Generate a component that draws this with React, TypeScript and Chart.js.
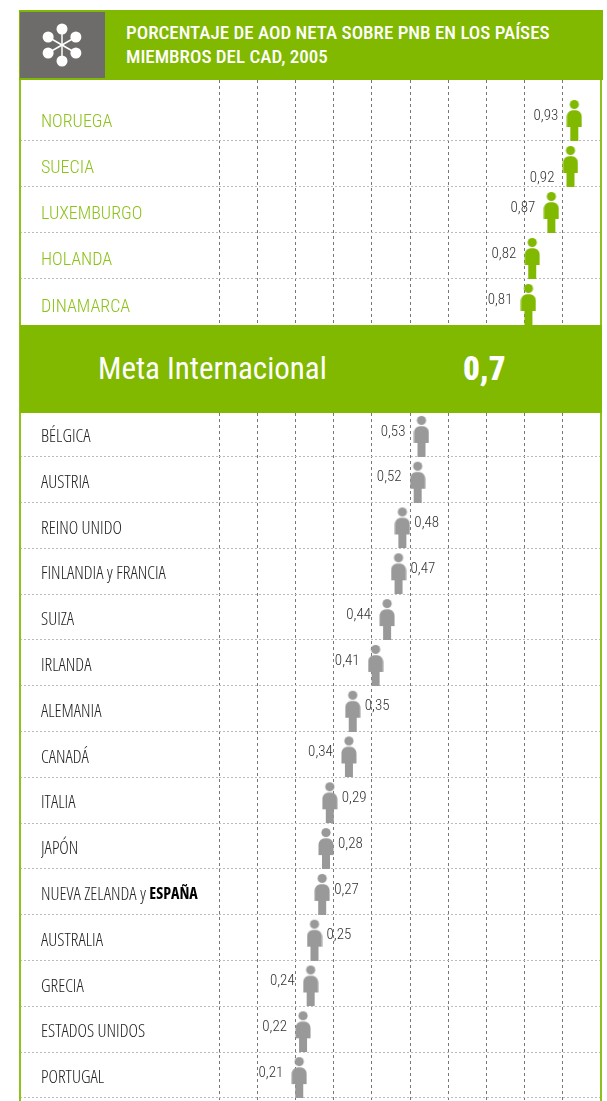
import React, { useEffect, useRef } from "react";
import { Chart, registerables } from "chart.js";

Chart.register(...registerables);

const titleLines = ["PORCENTAJE DE AOD NETA SOBRE PNB EN LOS PAÍSES", "MIEMBROS DEL CAD, 2005"];
const goalLabel = "Meta Internacional";
const goalValue = "0,7";

const topCountries = ["NORUEGA", "SUECIA", "LUXEMBURGO", "HOLANDA", "DINAMARCA"];
const topValues = [0.93, 0.92, 0.87, 0.82, 0.81];

const bottomCountries = [
  "BÉLGICA", "AUSTRIA", "REINO UNIDO", "FINLANDIA y FRANCIA", "SUIZA", "IRLANDA", "ALEMANIA", "CANADÁ",
  "ITALIA", "JAPÓN", "NUEVA ZELANDA y", "AUSTRALIA", "GRECIA", "ESTADOS UNIDOS", "PORTUGAL",
];
const bottomValues = [0.53, 0.52, 0.48, 0.47, 0.44, 0.41, 0.35, 0.34, 0.29, 0.28, 0.27, 0.25, 0.24, 0.22, 0.21];

const boldCountry = "ESPAÑA";
const boldAfter = "NUEVA ZELANDA y";
const labelsOnRight = ["REINO UNIDO", "FINLANDIA y FRANCIA", "ALEMANIA", "ITALIA", "JAPÓN", "NUEVA ZELANDA y", "AUSTRALIA"];
const labelsBelow = ["SUECIA"];

const GREEN = "#80b900";
const GRAY = "#999999";
const COND = '"Roboto Condensed", sans-serif';
const LABEL = '"Open Sans", sans-serif';

function figure(color: string): HTMLCanvasElement {
  const c = document.createElement("canvas");
  c.width = 16;
  c.height = 46;
  const g = c.getContext("2d")!;
  g.fillStyle = color;
  g.beginPath();
  g.arc(8, 9.5, 4.6, 0, Math.PI * 2);
  g.fill();
  g.beginPath();
  g.moveTo(0.5, 32);
  g.lineTo(0.5, 22);
  g.bezierCurveTo(0.5, 17, 4, 15.2, 8, 15.2);
  g.bezierCurveTo(12, 15.2, 15.5, 17, 15.5, 22);
  g.lineTo(15.5, 32);
  g.lineTo(12, 32);
  g.lineTo(12, 46);
  g.lineTo(4, 46);
  g.lineTo(4, 32);
  g.closePath();
  g.fill();
  return c;
}

function makeChart(
  canvas: HTMLCanvasElement,
  countries: string[],
  values: number[],
  color: string,
  textColor: string,
  tickFont: { family: string; size: number; weight: string },
  labelOffset: number,
  yMin: number,
  yMax: number
) {
  const valueLabels = {
    id: "valueLabels",
    afterDatasetsDraw(chart: any) {
      const g = chart.ctx;
      const pts = chart.getDatasetMeta(0).data;
      g.save();
      g.font = `300 15px ${COND}`;
      g.fillStyle = "#333333";
      g.textBaseline = "middle";
      pts.forEach((p: any, i: number) => {
        const right = labelsOnRight.includes(countries[i]);
        const below = labelsBelow.includes(countries[i]);
        g.textAlign = right ? "left" : "right";
        const text = values[i].toFixed(2).replace(".", ",");
        g.fillText(text, p.x + (right ? 12 : -16), p.y + (below ? 14 : -2));
      });
      g.restore();
    },
  };
  const boldLabel = {
    id: "boldLabel",
    afterDraw(chart: any) {
      const idx = countries.indexOf(boldAfter);
      if (idx < 0) return;
      const g = chart.ctx;
      const y = chart.scales.y;
      g.save();
      g.font = `normal 300 condensed ${tickFont.size}px ${LABEL}`;
      const w = g.measureText(boldAfter + " ").width;
      g.font = `normal 700 condensed 16px ${LABEL}`;
      g.fillStyle = "#000000";
      g.textAlign = "left";
      g.textBaseline = "middle";
      g.fillText(boldCountry, y.left + w, y.getPixelForValue(idx + 1) + labelOffset);
      g.restore();
    },
  };
  return new Chart(canvas, {
    type: "scatter",
    data: {
      datasets: [
        {
          data: values.map((v, i) => ({ x: v, y: i + 0.5 })),
          pointStyle: figure(color) as any,
          clip: false as any,
        },
      ],
    },
    plugins: [valueLabels, boldLabel],
    options: {
      responsive: false,
      animation: false,
      layout: { autoPadding: false, padding: { left: 21, right: 0, top: 0, bottom: 0 } },
      plugins: { legend: { display: false }, tooltip: { enabled: false } },
      scales: {
        x: {
          type: "linear",
          min: 0,
          max: 1,
          afterFit: (s: any) => {
            s.height = 0;
            s.paddingLeft = 0;
            s.paddingRight = 0;
          },
          ticks: { display: false, stepSize: 0.1 },
          border: { display: false, dash: [3, 3] },
          grid: { color: "#777777", lineWidth: 1, drawTicks: false },
        },
        y: {
          type: "linear",
          reverse: true,
          min: yMin,
          max: yMax,
          afterFit: (s: any) => {
            s.width = 178;
            s.paddingTop = 0;
            s.paddingBottom = 0;
          },
          afterBuildTicks: (s: any) => {
            s.ticks = countries.map((_, i) => ({ value: i + 1 }));
          },
          ticks: {
            autoSkip: false,
            padding: 0,
            crossAlign: "far",
            labelOffset,
            color: textColor,
            font: tickFont,
            callback: (v: any) => countries[Number(v) - 1] ?? "",
          },
          border: { display: false, dash: [2, 2] },
          grid: {
            color: "#bbbbbb",
            lineWidth: 1,
            tickLength: 199,
            tickColor: "#bbbbbb",
            tickBorderDash: [2, 2],
          },
        },
      },
    } as any,
  });
}

export default function App() {
  const topRef = useRef<HTMLCanvasElement>(null);
  const bottomRef = useRef<HTMLCanvasElement>(null);
  useEffect(() => {
    const a = makeChart(topRef.current!, topCountries, topValues, GREEN, "#8cc21a", { family: COND, size: 18, weight: "300" }, -18, -0.326, 5);
    const b = makeChart(bottomRef.current!, bottomCountries, bottomValues, GRAY, "#222222", { family: LABEL, size: 18, weight: "300 condensed" }, -20, 0.0437, 15.066);
    return () => {
      a.destroy();
      b.destroy();
    };
  }, []);
  const box = (left: number, top: number, width: number, height: number, background: string): React.CSSProperties => ({
    position: "absolute",
    left,
    top,
    width,
    height,
    background,
  });
  const arms = [0, 60, 120, 180, 240, 300];
  return (
    <div style={{ position: "absolute", left: 0, top: 0, width: 607, height: 1101, overflow: "hidden", background: "#fff", fontFamily: COND }}>
      <canvas ref={topRef} width={581} height={245} style={{ position: "absolute", left: 20, top: 80 }} />
      <canvas ref={bottomRef} width={581} height={688} style={{ position: "absolute", left: 20, top: 413 }} />
      <div style={box(19, 80, 2, 1021, "#8cc21a")} />
      <div style={box(600, 80, 2, 1021, "#8cc21a")} />
      <div style={box(19, 10, 584, 70, GREEN)} />
      <div style={box(20, 12, 85, 66, "#6d6c6a")} />
      <svg width={85} height={66} style={{ position: "absolute", left: 20, top: 12 }}>
        {arms.map((a) => {
          const r = (a * Math.PI) / 180;
          const x = 42 + 16 * Math.sin(r);
          const y = 33 - 16 * Math.cos(r);
          return (
            <g key={a}>
              <line x1={42} y1={33} x2={x} y2={y} stroke="#fff" strokeWidth={1.5} />
              <circle cx={x} cy={y} r={5.5} fill="#fff" />
            </g>
          );
        })}
      </svg>
      {titleLines.map((t, i) => (
        <div
          key={t}
          style={{ position: "absolute", left: 126, top: 21 + i * 24, lineHeight: "24px", fontSize: 19, fontWeight: 500, color: "#fff", whiteSpace: "nowrap" }}
        >
          {t}
        </div>
      ))}
      <div style={box(20, 325, 582, 88, GREEN)} />
      <div style={{ position: "absolute", left: 98, top: 349, lineHeight: "40px", fontSize: 31, color: "#fff", whiteSpace: "nowrap" }}>{goalLabel}</div>
      <div style={{ position: "absolute", left: 463, top: 349, lineHeight: "40px", fontSize: 33, fontWeight: 900, color: "#fff", whiteSpace: "nowrap" }}>{goalValue}</div>
    </div>
  );
}
